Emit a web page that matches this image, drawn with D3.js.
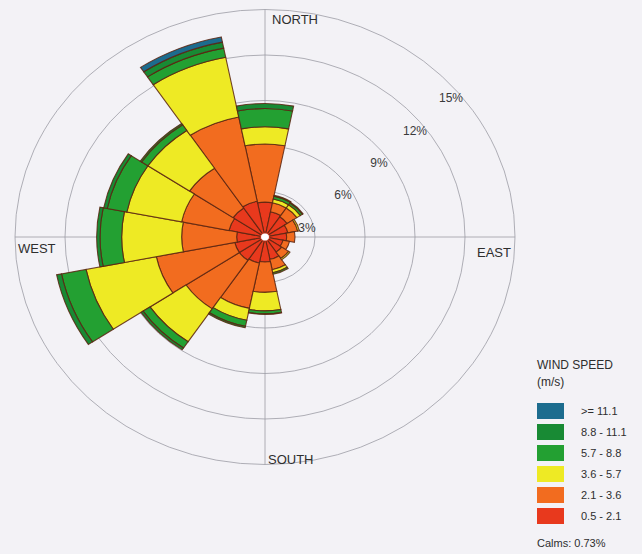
<!DOCTYPE html>
<html lang="en">
<head>
<meta charset="UTF-8">
<title>Wind rose</title>
<style>
  body { margin: 0; background: #f3f2f6; }
  svg { display: block; font-family: "Liberation Sans", Arial, sans-serif; }
</style>
</head>
<body>
<script src="https://d3js.org/d3.v7.min.js"></script>
<script>
  // 16 compass sectors, clockwise from north
  var directions = ['N', 'NNE', 'NE', 'ENE', 'E', 'ESE', 'SE', 'SSE',
                    'S', 'SSW', 'SW', 'WSW', 'W', 'WNW', 'NW', 'NNW'];

  // frequency (%) per speed class, one value per direction
  var speed05to21  = [2.3, 1.7, 1.6, 1.4, 1.3, 1.1, 1.2, 1.5, 1.65, 1.75, 1.85, 1.85, 1.7, 2.2, 2.3, 2.4];
  var speed21to36  = [3.83, 0.6, 0.7, 0.6, 0.5, 0.4, 0.5, 0.7, 2.0, 3.05, 3.85, 4.8, 3.3, 2.9, 3.15, 5.67];
  var speed36to57  = [1.14, 0.25, 0.25, 0.1, 0, 0, 0.1, 0.2, 1.22, 0.8, 2.6, 4.3, 3.6, 3.35, 3.0, 4.01];
  var speed57to88  = [1.2, 0.2, 0.15, 0, 0, 0, 0, 0.1, 0.2, 0.4, 0.5, 1.5, 1.3, 1.2, 0.45, 0.62];
  var speed88to111 = [0.33, 0.05, 0.05, 0, 0, 0, 0, 0, 0.03, 0.1, 0.15, 0.3, 0.2, 0.22, 0.1, 0.4];
  var speed111up   = [0, 0, 0, 0, 0, 0, 0, 0, 0, 0, 0, 0, 0, 0, 0, 0.35];

  var speedLabels = ['0.5 - 2.1', '2.1 - 3.6', '3.6 - 5.7', '5.7 - 8.8', '8.8 - 11.1', '>= 11.1'];
  var speedColors = ['#e8391d', '#f26c1f', '#eeea24', '#23a032', '#188a34', '#1c6c8e'];
  var gridTicks   = [3, 6, 9, 12, 15];
  var compass     = ['NORTH', 'EAST', 'SOUTH', 'WEST'];
  var calms       = 0.73;

  var width = 642, height = 554,
      cx = 265, cy = 237,
      squash = 0.91;   // the rose is drawn slightly flattened

  var svg = d3.select('body').append('svg')
      .attr('width', width)
      .attr('height', height);

  var series = [speed05to21, speed21to36, speed36to57, speed57to88, speed88to111, speed111up];
  var rows = directions.map(function(d, i) {
    var row = { dir: d, idx: i };
    speedLabels.forEach(function(k, j) { row[k] = series[j][i]; });
    return row;
  });

  var stacked = d3.stack().keys(speedLabels)(rows);

  var r = d3.scaleLinear().domain([0, 15]).range([0, 250]);
  var angle = d3.scaleLinear().domain([0, directions.length]).range([0, 2 * Math.PI]);
  var color = d3.scaleOrdinal().domain(speedLabels).range(speedColors);

  var rose = svg.append('g')
      .attr('transform', 'translate(' + cx + ',' + cy + ') scale(1,' + squash + ')');

  // grid
  rose.selectAll('circle.grid')
      .data(gridTicks)
    .enter().append('circle')
      .attr('class', 'grid')
      .attr('r', function(d) { return r(d); })
      .attr('fill', 'none')
      .attr('stroke', '#9c9ca4')
      .attr('stroke-width', 0.8)
      .attr('vector-effect', 'non-scaling-stroke');

  var rMax = r(d3.max(gridTicks));
  rose.append('line')
      .attr('x1', 0).attr('x2', 0)
      .attr('y1', -rMax).attr('y2', rMax);
  rose.append('line')
      .attr('x1', -rMax).attr('x2', rMax)
      .attr('y1', 0).attr('y2', 0);
  rose.selectAll('line')
      .attr('stroke', '#9c9ca4')
      .attr('stroke-width', 0.8)
      .attr('vector-effect', 'non-scaling-stroke');

  // sectors
  var arc = d3.arc()
      .innerRadius(function(d) { return r(d[0]); })
      .outerRadius(function(d) { return r(d[1]); })
      .startAngle(function(d) { return angle(d.data.idx - 0.5); })
      .endAngle(function(d) { return angle(d.data.idx + 0.5); });

  rose.selectAll('g.band')
      .data(stacked)
    .enter().append('g')
      .attr('class', 'band')
      .attr('fill', function(d) { return color(d.key); })
    .selectAll('path')
      .data(function(d) { return d.filter(function(s) { return s[1] - s[0] > 0; }); })
    .enter().append('path')
      .attr('d', arc)
      .attr('stroke', '#5a2410')
      .attr('stroke-width', 1.1)
      .attr('stroke-opacity', 0.85)
      .attr('vector-effect', 'non-scaling-stroke');

  rose.append('circle')
      .attr('r', 4.5)
      .attr('fill', '#ffffff')
      .attr('stroke', '#b8301a')
      .attr('stroke-width', 1)
      .attr('vector-effect', 'non-scaling-stroke');

  // percent labels
  svg.selectAll('text.pct')
      .data(gridTicks)
    .enter().append('text')
      .attr('class', 'pct')
      .attr('x', function(d) { return cx + 0.72 * r(d) + 6; })
      .attr('y', function(d) { return cy - 0.71 * r(d) * squash + 27; })
      .attr('text-anchor', 'middle')
      .attr('font-size', 12)
      .attr('fill', '#3a3a3a')
      .text(function(d) { return d + '%'; });

  // compass labels
  var compassPos = {
    NORTH: [cx + 7, cy - rMax * squash + 14, 'start'],
    EAST:  [cx + rMax - 4, cy + 20, 'end'],
    SOUTH: [cx + 3, cy + rMax * squash - 1, 'start'],
    WEST:  [cx - rMax + 3, cy + 16, 'start']
  };
  svg.selectAll('text.compass')
      .data(compass)
    .enter().append('text')
      .attr('class', 'compass')
      .attr('x', function(d) { return compassPos[d][0]; })
      .attr('y', function(d) { return compassPos[d][1]; })
      .attr('text-anchor', function(d) { return compassPos[d][2]; })
      .attr('font-size', 13)
      .attr('fill', '#2e2e2e')
      .text(function(d) { return d; });

  // legend
  var legend = svg.append('g').attr('transform', 'translate(537,0)');
  legend.append('text').attr('x', 0).attr('y', 369)
      .attr('font-size', 12).attr('fill', '#2e2e2e').text('WIND SPEED');
  legend.append('text').attr('x', 0).attr('y', 386)
      .attr('font-size', 12).attr('fill', '#2e2e2e').text('(m/s)');

  var items = legend.selectAll('g.item')
      .data(speedLabels.slice().reverse())
    .enter().append('g')
      .attr('class', 'item')
      .attr('transform', function(d, i) { return 'translate(0,' + (403 + i * 21) + ')'; });
  items.append('rect')
      .attr('width', 27).attr('height', 16)
      .attr('fill', function(d) { return color(d); });
  items.append('text')
      .attr('x', 44).attr('y', 12)
      .attr('font-size', 11)
      .attr('fill', '#2e2e2e')
      .text(function(d) { return d; });

  legend.append('text').attr('x', 0).attr('y', 547)
      .attr('font-size', 11).attr('fill', '#2e2e2e')
      .text('Calms: ' + calms + '%');
</script>
</body>
</html>
